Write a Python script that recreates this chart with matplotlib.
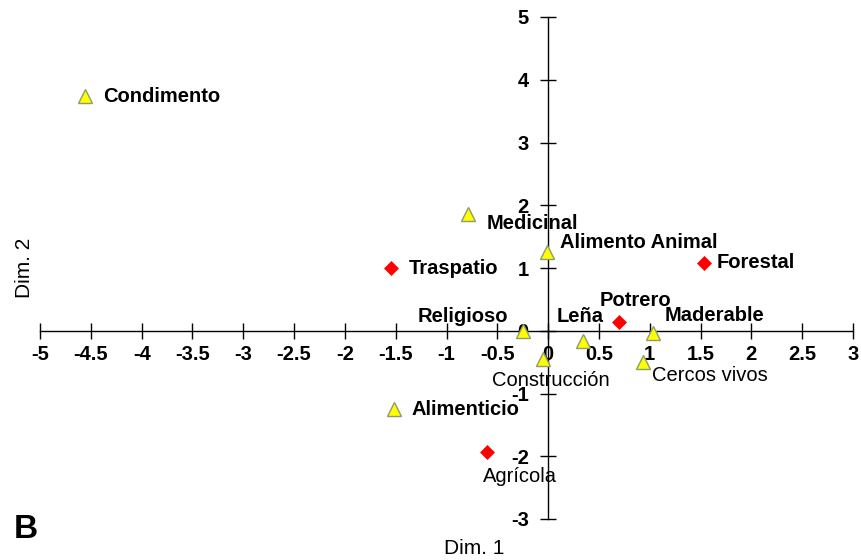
import numpy as np
import matplotlib
matplotlib.use('Agg')
import matplotlib.pyplot as plt

plt.rcParams['font.family'] = ['Liberation Sans', 'DejaVu Sans']

# usos (triangulos amarillos)
uso_names = ['Condimento', 'Medicinal', 'Alimento Animal', 'Religioso', 'Leña',
             'Maderable', 'Construcción', 'Cercos vivos', 'Alimenticio']
uso_x = [-4.56, -0.79, -0.01, -0.25, 0.34, 1.03, -0.05, 0.93, -1.52]
uso_y = [3.74, 1.86, 1.25, 0.0, -0.17, -0.03, -0.45, -0.50, -1.24]

# sitios (rombos rojos)
sitio_names = ['Traspatio', 'Forestal', 'Potrero', 'Agrícola']
sitio_x = [-1.55, 1.53, 0.70, -0.60]
sitio_y = [1.00, 1.08, 0.14, -1.94]

x_ticks = [-5, -4.5, -4, -3.5, -3, -2.5, -2, -1.5, -1, -0.5, 0, 0.5, 1, 1.5, 2, 2.5, 3]
y_ticks = [-3, -2, -1, 0, 1, 2, 3, 4, 5]

# posicion de etiquetas (offset en pixeles, alineacion, negrita)
label_pos = {
    'Condimento': ((18, 0), 'left', 'center', 'bold'),
    'Medicinal': ((19, -9), 'left', 'center', 'bold'),
    'Alimento Animal': ((13, 10), 'left', 'center', 'bold'),
    'Religioso': ((-15, 14), 'right', 'center', 'bold'),
    'Leña': ((-3, 25), 'center', 'center', 'bold'),
    'Maderable': ((12, 17), 'left', 'center', 'bold'),
    'Construcción': ((8, -22), 'center', 'center', 'normal'),
    'Cercos vivos': ((9, -13), 'left', 'center', 'normal'),
    'Alimenticio': ((18, -1), 'left', 'center', 'bold'),
    'Traspatio': ((18, 0), 'left', 'center', 'bold'),
    'Forestal': ((13, 0), 'left', 'center', 'bold'),
    'Potrero': ((16, 21), 'center', 'center', 'bold'),
    'Agrícola': ((-4, -24), 'left', 'center', 'normal'),
}

fig = plt.figure(figsize=(8.62, 5.60), dpi=100)
ax = fig.add_axes([40 / 862, 41 / 560, 813 / 862, 502 / 560])

ax.plot(uso_x, uso_y, linestyle='none', marker='^', markersize=10.5,
        markerfacecolor='#ffff00', markeredgecolor='#8c9c6c', markeredgewidth=1.0, zorder=3)
ax.plot(sitio_x, sitio_y, linestyle='none', marker='D', markersize=7.3,
        markerfacecolor='#ff0000', markeredgecolor='#ff0000', markeredgewidth=0.5, zorder=3)

for name, x, y in zip(uso_names + sitio_names, uso_x + sitio_x, uso_y + sitio_y):
    off, ha, va, fw = label_pos[name]
    ax.annotate(name, (x, y), xytext=off, textcoords='offset pixels',
                ha=ha, va=va, fontsize=14.5, fontweight=fw, color='black', zorder=4)

ax.set_xlim(-5, 3)
ax.set_ylim(-3, 5)
ax.spines['left'].set_position('zero')
ax.spines['bottom'].set_position('zero')
ax.spines['top'].set_visible(False)
ax.spines['right'].set_visible(False)
for s in ['left', 'bottom']:
    ax.spines[s].set_linewidth(1.0)
    ax.spines[s].set_zorder(1)

ax.set_xticks(x_ticks)
ax.set_xticklabels([f'{t:g}' for t in x_ticks])
ax.set_yticks(y_ticks)
ax.set_yticklabels([f'{t:g}' for t in y_ticks])
ax.tick_params(axis='both', direction='inout', length=12, width=1.0,
               labelsize=14.5)
ax.tick_params(axis='x', pad=4)
ax.tick_params(axis='y', pad=8)
for lab in ax.get_xticklabels() + ax.get_yticklabels():
    lab.set_fontweight('bold')

fig.text(474 / 862, 1 - 549 / 560, 'Dim. 1', ha='center', va='center', fontsize=15)
fig.text(25 / 862, 1 - 268 / 560, 'Dim. 2', ha='center', va='center', fontsize=15,
         rotation=90)
fig.text(26 / 862, 1 - 530 / 560, 'B', ha='center', va='center', fontsize=24,
         fontweight='bold')

fig.savefig('out.png', dpi=100)
